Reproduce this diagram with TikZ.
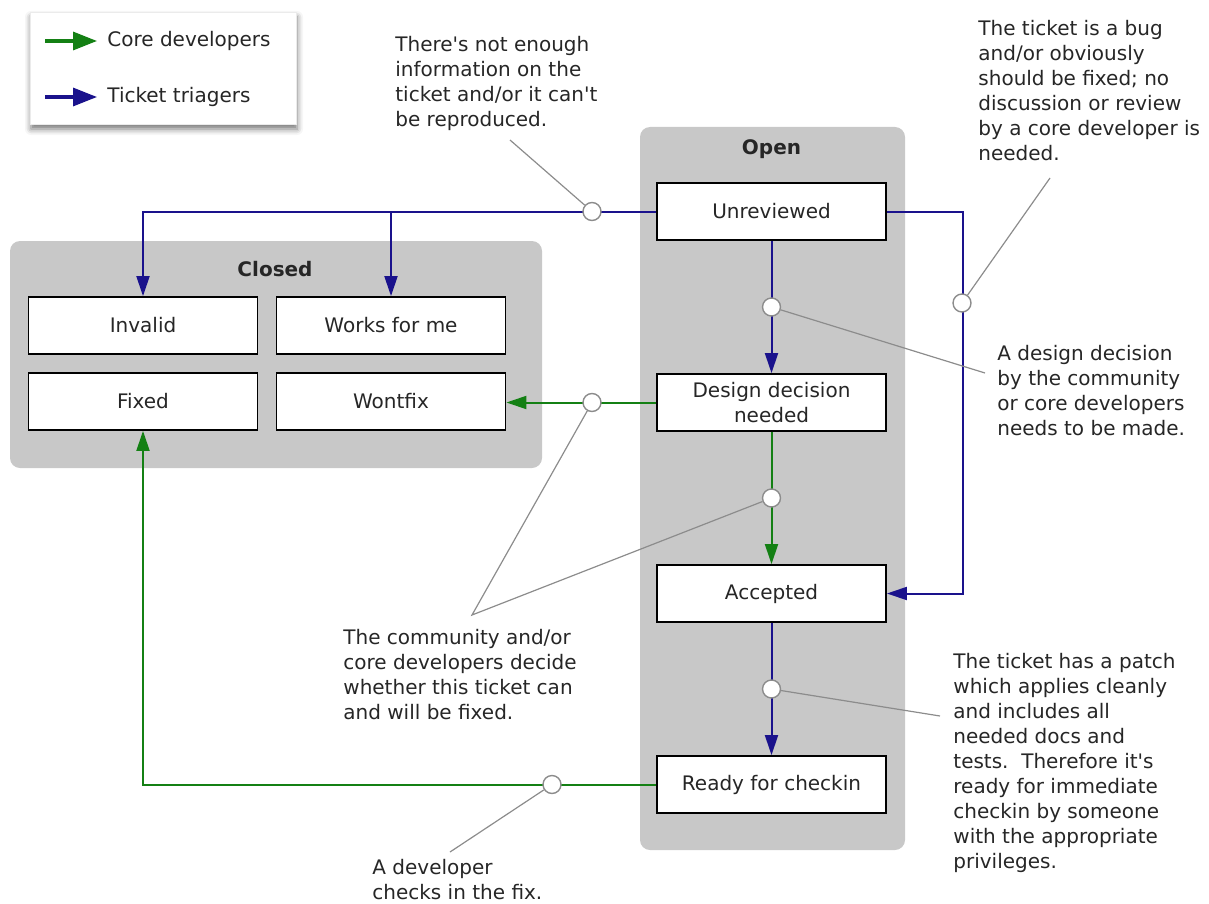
\documentclass[tikz,border=0pt]{standalone}
\usepackage{fontspec}
\setmainfont{DejaVu Sans}
\usetikzlibrary{ % tikz packages
    positioning,shadows.blur,
    arrows.meta
}
\definecolor{coredev}{RGB}{20,128,20}
\definecolor{triager}{RGB}{26,18,140}
\definecolor{groupgray}{RGB}{200,200,200}
\definecolor{pointergray}{RGB}{140,140,140}
\definecolor{inkgray}{RGB}{38,38,38}
\newcommand{\straightq}{\textquotesingle}
\tikzset{status/.style={
    draw=black, fill=white, line width=0.9pt,
    minimum width=114.5pt, minimum height=28.5pt,
    align=center, inner sep=2pt
}}
\tikzset{knob/.style={
    circle, draw=pointergray, fill=white, line width=0.7pt,
    minimum size=9pt, inner sep=0pt
}}
\tikzset{note/.style={
    align=left, anchor=north west, inner sep=0pt
}}
\tikzset{pointer/.style={
    draw=pointergray, line width=0.6pt
}}
\tikzset{group/.style={
    fill=groupgray, rounded corners=5pt
}}
\tikzset{flow/.style={
    draw=#1, line width=1pt, ->
}}
\tikzset{legendarrow/.style={
    line width=1.6pt, -{Triangle[length=12pt,width=9pt]}
}}
\tikzset{>={Triangle[length=10pt,width=6.5pt]}}

\begin{document}
\begin{tikzpicture}[x=0.5pt,y=-0.5pt,node distance=95.5pt,on grid,
        font=\fontsize{10}{12.5}\selectfont, text=inkgray]
    \useasboundingbox (0,0) rectangle (1209,904);

    % groups
    \path[group] (640,127) rectangle (905,850);
    \path[group] (10,241) rectangle (542,468);
    \node[font=\fontsize{10}{12.5}\selectfont\bfseries] (opentitle) at (771.5,149) {Open};
    \node[font=\fontsize{10}{12.5}\selectfont\bfseries] (closedtitle) at (275,269) {Closed};

    % open tickets
    \node[status] (unrev) at (771.5,211.5) {Unreviewed};
    \node[status] (design) [below=of unrev] {Design decision\\needed};
    \node[status] (accepted) [below=of design] {Accepted};
    \node[status] (ready) [below=of accepted] {Ready for checkin};

    % closed tickets
    \node[status] (invalid) at (143,325.5) {Invalid};
    \node[status] (works) [right=124pt of invalid] {Works for me};
    \node[status] (fixed) [below=38pt of invalid] {Fixed};
    \node[status] (wontfix) [below=38pt of works] {Wontfix};

    % transitions
    \draw[flow=triager] (unrev.west) -| (invalid.north);
    \draw[flow=triager] (unrev.west -| works.north) -- (works.north);
    \draw[flow=triager] (unrev.east) -- ++(76,0) |- (accepted.east);
    \draw[flow=coredev] (ready.west) -| (fixed.south);
    \draw[flow=triager] (unrev) -- (design);
    \draw[flow=coredev] (design) -- (accepted);
    \draw[flow=coredev] (design.west) -- (design.west -| wontfix.east);
    \draw[flow=triager] (accepted) -- (ready);

    % knobs on the transitions
    \node[knob] (k1) [left=89.75pt of unrev] {};
    \node[knob] (k2) [below right=45.75pt and 95.25pt of unrev] {};
    \node[knob] (k3) [below=47.75pt of unrev] {};
    \node[knob] (k4) [below=47.75pt of design] {};
    \node[knob] (k5) [below=47.75pt of accepted] {};
    \node[knob] (k6) [left=89.75pt of design] {};
    \node[knob] (k7) [left=109.75pt of ready] {};

    % notes
    \node[note] (n1) at (395,36) {There\straightq s not enough\\information on the\\ticket and/or it can\straightq t\\be reproduced.};
    \node[note] (n2) at (978,20) {The ticket is a bug\\and/or obviously\\should be fixed; no\\discussion or review\\by a core developer is\\needed.};
    \node[note] (n3) at (997,345) {A design decision\\by the community\\or core developers\\needs to be made.};
    \node[note] (n4) at (343,629) {The community and/or\\core developers decide\\whether this ticket can\\and will be fixed.};
    \node[note] (n5) at (953,653) {The ticket has a patch\\which applies cleanly\\and includes all\\needed docs and\\tests.\ \ Therefore it\straightq s\\ready for immediate\\checkin by someone\\with the appropriate\\privileges.};
    \node[note] (n6) at (372,859) {A developer\\checks in the fix.};

    \coordinate (e1) at (510,140);
    \coordinate (e2) at (1050,178);
    \coordinate (e3) at (985,373);
    \coordinate (e4) at (472,615);
    \coordinate (e5) at (940,716);
    \coordinate (e6) at (450,852);
    \draw[pointer] (k1) -- (e1);
    \draw[pointer] (k2) -- (e2);
    \draw[pointer] (k3) -- (e3);
    \draw[pointer] (k6) -- (e4) -- (k4);
    \draw[pointer] (k5) -- (e5);
    \draw[pointer] (k7) -- (e6);

    % legend
    \node[fill=white, draw=black!8, minimum width=133pt, minimum height=56pt,
        blur shadow={shadow xshift=0.5pt, shadow yshift=-2.5pt, shadow blur radius=3pt, shadow opacity=55}]
        (legend) at (163,68) {};
    \node[anchor=west, inner xsep=5pt] (coretext) at (97,41) {Core developers};
    \node[anchor=west, inner xsep=5pt] (triagetext) at (97,97) {Ticket triagers};
    \coordinate (corestart) at (45,41);
    \coordinate (triagestart) at (45,97);
    \draw[legendarrow, coredev] (corestart) -- (coretext.west);
    \draw[legendarrow, triager] (triagestart) -- (triagetext.west);
\end{tikzpicture}
\end{document}
